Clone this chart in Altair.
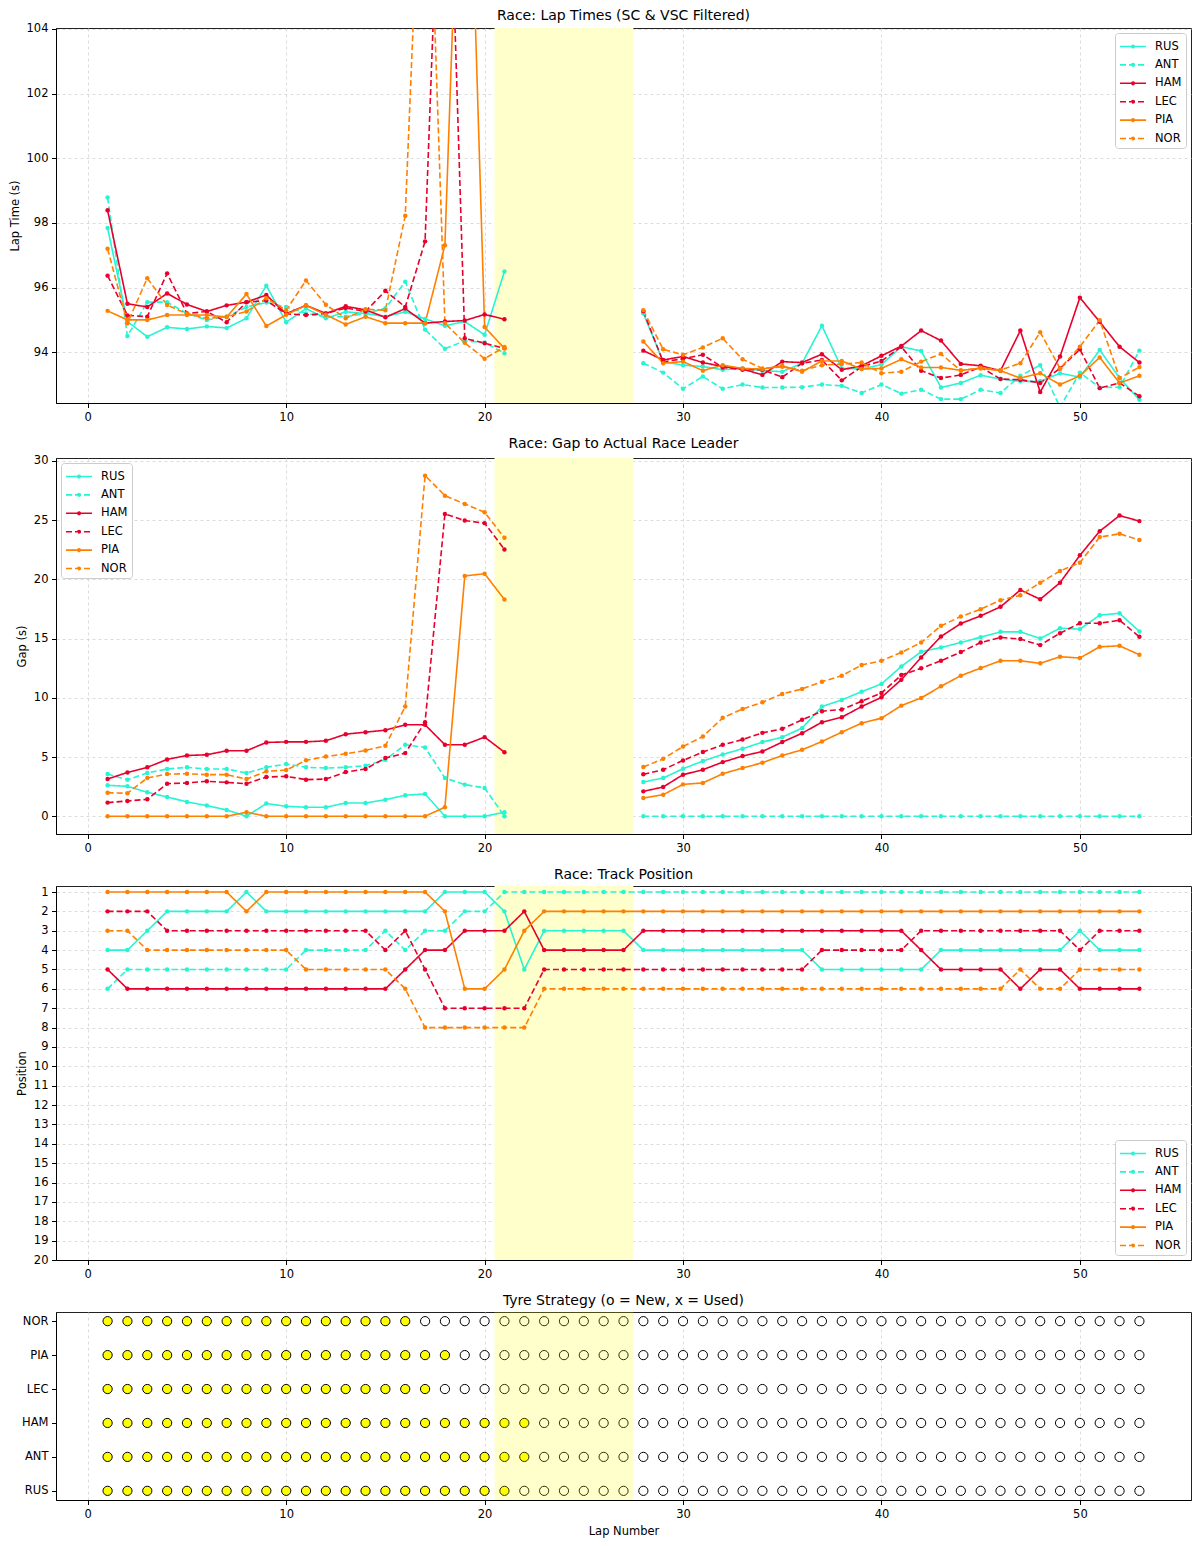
import altair as alt
import pandas as pd

FONT = "DejaVu Sans"

drivers = ["RUS", "ANT", "HAM", "LEC", "PIA", "NOR"]
driver_colors = ["#27F4D2", "#27F4D2", "#E8002D", "#E8002D", "#FF8000", "#FF8000"]
driver_dash = [[1, 0], [6, 3], [1, 0], [6, 3], [1, 0], [6, 3]]
tyre_order = ["NOR", "PIA", "LEC", "HAM", "ANT", "RUS"]

laps = list(range(1, 54))
sc_start, sc_end = 20.5, 27.5
x_ticks = [0, 10, 20, 30, 40, 50]

# ---- Lap times (s); None = SC/VSC laps filtered out ----
lt_RUS = [97.84, 94.95, 94.48, 94.77, 94.72, 94.8, 94.75, 95.05, 96.06, 94.93, 95.35, 95.05, 95.25, 95.2, 95.1, 95.25, 95.03, 94.82, 94.95, 94.54, 96.5,
          None, None, None, None, None, None,
          95.2, 93.71, 93.6, 93.56, 93.46, 93.5, 93.43, 93.4, 93.66, 94.82, 93.5, 93.48, 93.62, 94.17, 94.04, 92.91, 93.05, 93.29, 93.17, 93.1, 93.1, 93.35, 93.23, 94.07, 93.2, 92.53]
lt_ANT = [98.79, 94.5, 95.55, 95.55, 95.2, 95.0, 95.1, 95.4, 95.54, 95.4, 95.2, 95.1, 95.1, 95.2, 95.36, 96.18, 94.7, 94.11, 94.35, 94.3, 93.97,
          None, None, None, None, None, None,
          93.66, 93.37, 92.87, 93.25, 92.87, 93.0, 92.91, 92.91, 92.92, 93.0, 92.96, 92.74, 93.0, 92.72, 92.84, 92.55, 92.55, 92.84, 92.74, 93.27, 93.6, 92.3, 93.37, 92.91, 92.92, 94.05]
lt_HAM = [98.39, 95.5, 95.4, 95.82, 95.48, 95.26, 95.45, 95.55, 95.77, 95.19, 95.45, 95.2, 95.42, 95.31, 95.08, 95.35, 94.9, 94.95, 94.98, 95.17, 95.02,
          None, None, None, None, None, None,
          94.05, 93.76, 93.87, 93.68, 93.56, 93.48, 93.3, 93.71, 93.68, 93.94, 93.46, 93.58, 93.89, 94.19, 94.67, 94.36, 93.64, 93.58, 93.43, 94.67, 92.77, 93.87, 95.69, 94.94, 94.17, 93.68]
lt_LEC = [96.37, 95.14, 95.1, 96.44, 95.2, 95.26, 94.93, 95.55, 95.6, 95.19, 95.15, 95.2, 95.37, 95.26, 95.9, 95.4, 97.43, 114.0, 94.43, 94.28, 94.12,
          None, None, None, None, None, None,
          95.27, 93.7, 93.8, 93.92, 93.53, 93.46, 93.46, 93.23, 93.66, 93.76, 93.13, 93.55, 93.73, 94.17, 93.43, 93.2, 93.3, 93.54, 93.17, 93.15, 93.05, 93.5, 94.09, 92.89, 93.05, 92.64]
lt_PIA = [95.28, 95.0, 95.0, 95.15, 95.15, 95.15, 95.09, 95.8, 94.81, 95.16, 95.45, 95.16, 94.86, 95.1, 94.9, 94.9, 94.9, 97.31, 115.0, 94.78, 94.12,
          None, None, None, None, None, None,
          94.33, 93.66, 93.71, 93.43, 93.6, 93.5, 93.48, 93.58, 93.4, 93.73, 93.73, 93.48, 93.5, 93.78, 93.53, 93.53, 93.44, 93.5, 93.43, 93.2, 93.35, 93.0, 93.27, 93.84, 93.05, 93.27]
lt_NOR = [97.2, 94.9, 96.29, 95.46, 95.19, 95.05, 95.1, 95.26, 95.67, 95.3, 96.22, 95.47, 95.05, 95.33, 95.3, 98.22, 113.0, 94.9, 94.29, 93.8, 94.16,
          None, None, None, None, None, None,
          95.3, 94.09, 93.92, 94.15, 94.43, 93.78, 93.5, 93.55, 93.43, 93.6, 93.64, 93.68, 93.35, 93.4, 93.71, 93.95, 93.43, 93.52, 93.45, 93.66, 94.62, 93.5, 94.17, 94.99, 93.2, 93.54]

# ---- Gap to leader (s) ----
gap_RUS = [2.61, 2.53, 2.02, 1.63, 1.21, 0.9, 0.53, 0.0, 1.07, 0.84, 0.76, 0.76, 1.12, 1.12, 1.4, 1.77, 1.88, 0.0, 0.0, 0.0, 0.34,
           None, None, None, None, None, None,
           2.89, 3.23, 4.01, 4.66, 5.22, 5.7, 6.26, 6.68, 7.44, 9.26, 9.82, 10.52, 11.17, 12.65, 13.89, 14.25, 14.67, 15.12, 15.57, 15.57, 15.01, 15.88, 15.8, 16.98, 17.14, 15.6]
gap_ANT = [3.56, 3.08, 3.65, 3.99, 4.13, 3.99, 3.99, 3.65, 4.13, 4.41, 4.13, 4.07, 4.13, 4.27, 4.77, 6.04, 5.81, 3.23, 2.67, 2.39, 0.0,
           None, None, None, None, None, None,
           0.0, 0.0, 0.0, 0.0, 0.0, 0.0, 0.0, 0.0, 0.0, 0.0, 0.0, 0.0, 0.0, 0.0, 0.0, 0.0, 0.0, 0.0, 0.0, 0.0, 0.0, 0.0, 0.0, 0.0, 0.0, 0.0]
gap_HAM = [3.14, 3.7, 4.13, 4.8, 5.13, 5.19, 5.53, 5.53, 6.23, 6.28, 6.28, 6.37, 6.93, 7.1, 7.27, 7.72, 7.72, 6.04, 6.04, 6.68, 5.41,
           None, None, None, None, None, None,
           2.1, 2.47, 3.51, 3.93, 4.57, 5.08, 5.47, 6.26, 7.01, 7.94, 8.36, 9.26, 10.04, 11.53, 13.41, 15.18, 16.27, 16.92, 17.68, 19.11, 18.32, 19.72, 22.03, 24.07, 25.39, 24.92]
gap_LEC = [1.15, 1.29, 1.43, 2.75, 2.81, 2.95, 2.86, 2.75, 3.31, 3.37, 3.09, 3.14, 3.73, 3.99, 4.91, 5.33, 7.94, 25.53, 24.97, 24.75, 22.53,
           None, None, None, None, None, None,
           3.54, 3.93, 4.71, 5.42, 6.03, 6.48, 7.04, 7.38, 8.14, 8.87, 9.01, 9.71, 10.41, 11.92, 12.49, 13.13, 13.86, 14.67, 15.1, 14.96, 14.45, 15.46, 16.3, 16.3, 16.55, 15.15]
gap_PIA = [0.0, 0.0, 0.0, 0.0, 0.0, 0.0, 0.0, 0.34, 0.0, 0.0, 0.0, 0.0, 0.0, 0.0, 0.0, 0.0, 0.0, 0.76, 20.29, 20.48, 18.3,
           None, None, None, None, None, None,
           1.54, 1.82, 2.69, 2.81, 3.59, 4.07, 4.52, 5.13, 5.61, 6.31, 7.1, 7.86, 8.28, 9.34, 9.99, 10.97, 11.87, 12.51, 13.13, 13.13, 12.91, 13.47, 13.36, 14.31, 14.39, 13.64]
gap_NOR = [1.99, 1.94, 3.23, 3.56, 3.59, 3.51, 3.51, 3.14, 3.79, 3.9, 4.72, 5.05, 5.27, 5.56, 5.95, 9.26, 28.76, 27.07, 26.37, 25.67, 23.51,
           None, None, None, None, None, None,
           4.15, 4.85, 5.89, 6.73, 8.31, 9.06, 9.62, 10.33, 10.75, 11.36, 11.87, 12.77, 13.13, 13.83, 14.67, 16.08, 16.86, 17.48, 18.24, 18.66, 19.72, 20.71, 21.41, 23.57, 23.85, 23.32]

# ---- Track position per lap ----
pos_RUS = [4, 4, 3, 2, 2, 2, 2, 1, 2, 2, 2, 2, 2, 2, 2, 2, 2, 1, 1, 1, 2, 5, 3, 3, 3, 3, 3,
           4, 4, 4, 4, 4, 4, 4, 4, 4, 5, 5, 5, 5, 5, 5, 4, 4, 4, 4, 4, 4, 4, 3, 4, 4, 4]
pos_ANT = [6, 5, 5, 5, 5, 5, 5, 5, 5, 5, 4, 4, 4, 4, 3, 4, 3, 3, 2, 2, 1, 1, 1, 1, 1, 1, 1,
           1, 1, 1, 1, 1, 1, 1, 1, 1, 1, 1, 1, 1, 1, 1, 1, 1, 1, 1, 1, 1, 1, 1, 1, 1, 1]
pos_HAM = [5, 6, 6, 6, 6, 6, 6, 6, 6, 6, 6, 6, 6, 6, 6, 5, 4, 4, 3, 3, 3, 2, 4, 4, 4, 4, 4,
           3, 3, 3, 3, 3, 3, 3, 3, 3, 3, 3, 3, 3, 3, 4, 5, 5, 5, 5, 6, 5, 5, 6, 6, 6, 6]
pos_LEC = [2, 2, 2, 3, 3, 3, 3, 3, 3, 3, 3, 3, 3, 3, 4, 3, 5, 7, 7, 7, 7, 7, 5, 5, 5, 5, 5,
           5, 5, 5, 5, 5, 5, 5, 5, 5, 4, 4, 4, 4, 4, 3, 3, 3, 3, 3, 3, 3, 3, 4, 3, 3, 3]
pos_PIA = [1, 1, 1, 1, 1, 1, 1, 2, 1, 1, 1, 1, 1, 1, 1, 1, 1, 2, 6, 6, 5, 3, 2, 2, 2, 2, 2,
           2, 2, 2, 2, 2, 2, 2, 2, 2, 2, 2, 2, 2, 2, 2, 2, 2, 2, 2, 2, 2, 2, 2, 2, 2, 2]
pos_NOR = [3, 3, 4, 4, 4, 4, 4, 4, 4, 4, 5, 5, 5, 5, 5, 6, 8, 8, 8, 8, 8, 8, 6, 6, 6, 6, 6,
           6, 6, 6, 6, 6, 6, 6, 6, 6, 6, 6, 6, 6, 6, 6, 6, 6, 6, 6, 5, 6, 6, 5, 5, 5, 5]

# ---- Tyres: number of laps run on the new (first) set ----
new_tyre_RUS, new_tyre_ANT, new_tyre_HAM = 21, 22, 22
new_tyre_LEC, new_tyre_PIA, new_tyre_NOR = 17, 18, 16

lap_times = [lt_RUS, lt_ANT, lt_HAM, lt_LEC, lt_PIA, lt_NOR]
gaps = [gap_RUS, gap_ANT, gap_HAM, gap_LEC, gap_PIA, gap_NOR]
positions = [pos_RUS, pos_ANT, pos_HAM, pos_LEC, pos_PIA, pos_NOR]
new_tyres = [new_tyre_RUS, new_tyre_ANT, new_tyre_HAM, new_tyre_LEC, new_tyre_PIA, new_tyre_NOR]


def long_frame(series):
    """Long table; a new line segment starts after every run of missing laps."""
    rows = []
    for d, vals in zip(drivers, series):
        seg, gap_seen = 0, False
        for lap, v in zip(laps, vals):
            if v is None:
                gap_seen = True
                continue
            if gap_seen:
                seg += 1
                gap_seen = False
            rows.append({"lap": lap, "value": v, "driver": d, "stint": seg})
    return pd.DataFrame(rows)


span_df = pd.DataFrame({"start": [sc_start], "end": [sc_end]})

XSCALE = alt.Scale(domain=[-1.6, 55.6], nice=False, zero=False)
# legend glyph: line with a dot in the middle (unit = half symbol width)
LEG_SYMBOL = "M-1,0H2.06M0.38,0A0.15,0.15,0,1,1,0.68,0A0.15,0.15,0,1,1,0.38,0"
W = 1135


def title(t, offset=4):
    return alt.TitleParams(t, fontSize=14, font=FONT, fontWeight="normal",
                           color="#000", anchor="middle", offset=offset)


def legend(orient):
    return alt.Legend(title=None, orient=orient, offset=5, padding=4, rowPadding=3.4,
                      symbolType=LEG_SYMBOL, symbolSize=289, symbolStrokeWidth=1.6,
                      labelFontSize=11.5, labelFont=FONT, labelOffset=17, labelColor="#000",
                      strokeColor="#cccccc", fillColor="white", cornerRadius=3)


def xenc(field, axis_title=None):
    return alt.X(field, scale=XSCALE, axis=alt.Axis(values=x_ticks, title=axis_title))


def line_panel(series, ttl, ytitle, ydomain, yticks, orient, height, reverse=False, toff=4):
    df = long_frame(series)
    yscale = alt.Scale(domain=ydomain, nice=False, zero=False, reverse=reverse)
    yaxis = alt.Axis(values=yticks, title=ytitle)
    span = alt.Chart(span_df).mark_rect(color="#FFFFCC").encode(
        x=xenc("start:Q"), x2="end:Q")
    lines = alt.Chart(df).mark_line(strokeWidth=1.6, clip=True).encode(
        x=xenc("lap:Q"),
        y=alt.Y("value:Q", scale=yscale, axis=yaxis),
        color=alt.Color("driver:N", scale=alt.Scale(domain=drivers, range=driver_colors),
                        legend=legend(orient)),
        strokeDash=alt.StrokeDash("driver:N", scale=alt.Scale(domain=drivers, range=driver_dash),
                                  legend=legend(orient)),
        detail="stint:N",
    )
    pts = alt.Chart(df).mark_point(filled=True, size=20, opacity=1, strokeWidth=0, clip=True).encode(
        x=xenc("lap:Q"),
        y=alt.Y("value:Q", scale=yscale, axis=yaxis),
        fill=alt.Fill("driver:N", scale=alt.Scale(domain=drivers, range=driver_colors), legend=None),
    )
    return alt.layer(span, lines, pts).properties(width=W, height=height, title=title(ttl, toff))


p1 = line_panel(lap_times, "Race: Lap Times (SC & VSC Filtered)", "Lap Time (s)",
                [92.43, 104.03], [94, 96, 98, 100, 102, 104], "top-right", 375, toff=0)
p2 = line_panel(gaps, "Race: Gap to Actual Race Leader", "Gap (s)",
                [-1.5, 30.25], [0, 5, 10, 15, 20, 25, 30], "top-left", 376)
p3 = line_panel(positions, "Race: Track Position", "Position",
                [0.69, 20], list(range(1, 21)), "bottom-right", 374, reverse=True)

# tyre panel
trows = []
for d, n_new in zip(drivers, new_tyres):
    for lap in laps:
        trows.append({"lap": lap, "driver": d, "state": "new" if lap <= n_new else "used"})
tdf = pd.DataFrame(trows)

tyre_marks = alt.Chart(tdf).mark_point(filled=True, size=85, opacity=1, stroke="black",
                                       strokeWidth=1).encode(
    x=xenc("lap:Q", "Lap Number"),
    y=alt.Y("driver:N", sort=tyre_order, scale=alt.Scale(type="point", padding=0.27),
            axis=alt.Axis(grid=False, title=None)),
    fill=alt.Fill("state:N", scale=alt.Scale(domain=["new", "used"], range=["#FFFF00", "#FFFFFF"]),
                  legend=None),
)
tyre_span = alt.Chart(span_df).mark_rect(color="#FFFF00", opacity=0.2).encode(
    x=xenc("start:Q", "Lap Number"), x2="end:Q")
p4 = alt.layer(tyre_marks, tyre_span).properties(
    width=W, height=188, title=title("Tyre Strategy (o = New, x = Used)"))

chart = alt.vconcat(p1, p2, p3, p4, spacing=13).resolve_scale(
    color="independent", strokeDash="independent", fill="independent",
    x="independent", y="independent"
).resolve_legend(
    color="independent", strokeDash="independent"
).properties(
    padding={"left": 0, "top": 0, "right": 0, "bottom": 5}
).configure(font=FONT).configure_view(
    stroke="#222", strokeWidth=1
).configure_axis(
    labelFont=FONT, labelFontSize=11.5, labelColor="#000", labelFlush=False,
    titleFont=FONT, titleFontSize=11.5, titleFontWeight="normal", titleColor="#000",
    tickColor="#000", tickSize=4.5, domainColor="#000", domainWidth=1,
    gridColor="#d3d3d3", gridDash=[3, 3], gridWidth=0.8, labelPadding=3.5, titlePadding=6
)

chart.save("out.html", embed_options={"renderer": "svg", "actions": False})
